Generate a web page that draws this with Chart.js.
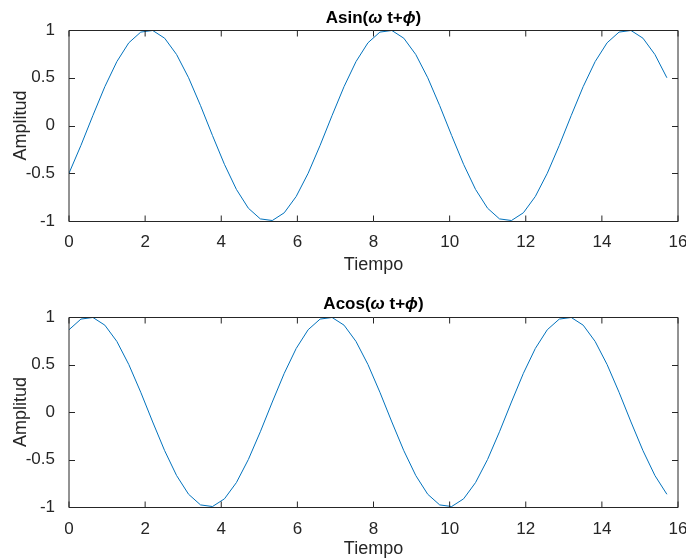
<!DOCTYPE html>
<html>
<head>
<meta charset="utf-8">
<script src="https://cdn.jsdelivr.net/npm/chart.js@4.4.1/dist/chart.umd.min.js"></script>
<style>
  body { margin: 0; background: #fff; }
  canvas { display: block; }
</style>
</head>
<body>
<canvas id="arriba" width="686" height="280"></canvas>
<canvas id="abajo" width="686" height="280"></canvas>
<script>
// t = 0 .. 5*pi, paso pi/10
const tiempo = [0, 0.314, 0.628, 0.942, 1.257, 1.571, 1.885, 2.199, 2.513, 2.827,
    3.142, 3.456, 3.770, 4.084, 4.398, 4.712, 5.027, 5.341, 5.655, 5.969,
    6.283, 6.597, 6.912, 7.226, 7.540, 7.854, 8.168, 8.482, 8.796, 9.111,
    9.425, 9.739, 10.053, 10.367, 10.681, 10.996, 11.310, 11.624, 11.938, 12.252,
    12.566, 12.881, 13.195, 13.509, 13.823, 14.137, 14.451, 14.765, 15.080, 15.394,
    15.708];
const seno = [-0.5, -0.208, 0.105, 0.407, 0.669, 0.866, 0.978, 0.995, 0.914, 0.743,
    0.5, 0.208, -0.105, -0.407, -0.669, -0.866, -0.978, -0.995, -0.914, -0.743,
    -0.5, -0.208, 0.105, 0.407, 0.669, 0.866, 0.978, 0.995, 0.914, 0.743,
    0.5, 0.208, -0.105, -0.407, -0.669, -0.866, -0.978, -0.995, -0.914, -0.743,
    -0.5, -0.208, 0.105, 0.407, 0.669, 0.866, 0.978, 0.995, 0.914, 0.743,
    0.5];
const coseno = [0.866, 0.978, 0.995, 0.914, 0.743, 0.5, 0.208, -0.105, -0.407, -0.669,
    -0.866, -0.978, -0.995, -0.914, -0.743, -0.5, -0.208, 0.105, 0.407, 0.669,
    0.866, 0.978, 0.995, 0.914, 0.743, 0.5, 0.208, -0.105, -0.407, -0.669,
    -0.866, -0.978, -0.995, -0.914, -0.743, -0.5, -0.208, 0.105, 0.407, 0.669,
    0.866, 0.978, 0.995, 0.914, 0.743, 0.5, 0.208, -0.105, -0.407, -0.669,
    -0.866];
const xTicks = [0, 2, 4, 6, 8, 10, 12, 14, 16];
const yTicks = [-1, -0.5, 0, 0.5, 1];

const fuente = '"Liberation Sans", Arial, Helvetica, sans-serif';
const gris = '#262626';

// caja completa con marcas hacia dentro + titulo con letras griegas en cursiva
const marco = {
    id: 'marco',
    afterDatasetsDraw(chart, args, opts) {
        const { ctx, chartArea: a, scales: { x, y } } = chart;
        const l = Math.round(a.left), r = Math.round(a.right);
        const t = Math.round(a.top) + 0.5, b = Math.round(a.bottom) + 0.5;
        ctx.save();
        ctx.strokeStyle = gris;
        ctx.lineWidth = 1;
        ctx.beginPath();
        ctx.moveTo(l, t); ctx.lineTo(r, t);
        ctx.moveTo(l, b); ctx.lineTo(r, b);
        ctx.moveTo(l, t); ctx.lineTo(l, b);
        ctx.moveTo(r, t); ctx.lineTo(r, b);
        xTicks.forEach(v => {
            const px = x.getPixelForValue(v);
            ctx.moveTo(px, b); ctx.lineTo(px, b - 6);
            ctx.moveTo(px, t); ctx.lineTo(px, t + 6);
        });
        yTicks.forEach(v => {
            const py = Math.round(y.getPixelForValue(v)) + 0.5;
            ctx.moveTo(l, py); ctx.lineTo(l + 6, py);
            ctx.moveTo(r, py); ctx.lineTo(r - 6, py);
        });
        ctx.stroke();

        // titulo
        const partes = opts.partes;
        const fonts = partes.map(p => (p[1] ? 'italic bold 17px ' : 'bold 17px ') + fuente);
        let ancho = 0;
        partes.forEach((p, i) => { ctx.font = fonts[i]; ancho += ctx.measureText(p[0]).width; });
        let cx = (a.left + a.right) / 2 - ancho / 2;
        ctx.fillStyle = '#000';
        ctx.textBaseline = 'alphabetic';
        ctx.textAlign = 'left';
        partes.forEach((p, i) => {
            ctx.font = fonts[i];
            ctx.fillText(p[0], cx, opts.base);
            cx += ctx.measureText(p[0]).width;
        });
        ctx.restore();
    }
};

function hacerGrafica(id, valores, partes, arriba, abajoEje, base, tickPad, titlePad) {
    const alto = 280;
    return new Chart(document.getElementById(id), {
        type: 'line',
        data: {
            datasets: [{
                data: tiempo.map((t, i) => ({ x: t, y: valores[i] })),
                borderColor: '#0072BD',
                borderWidth: 1,
                pointRadius: 0,
                tension: 0,
                fill: false
            }]
        },
        options: {
            responsive: false,
            animation: false,
            devicePixelRatio: 1,
            layout: { padding: { top: arriba, right: 8, left: 0, bottom: 0 } },
            plugins: {
                legend: { display: false },
                tooltip: { enabled: false },
                marco: { partes, base }
            },
            scales: {
                x: {
                    type: 'linear',
                    min: 0,
                    max: 16,
                    afterFit: s => {
                        s.height = alto - abajoEje;
                        s.paddingLeft = 0;
                        s.paddingRight = 0;
                    },
                    afterBuildTicks: s => { s.ticks = xTicks.map(v => ({ value: v })); },
                    grid: { display: false },
                    border: { display: false },
                    ticks: {
                        padding: tickPad,
                        color: gris,
                        maxRotation: 0,
                        font: { family: fuente, size: 17 },
                        callback: v => String(v)
                    },
                    title: {
                        display: true,
                        text: 'Tiempo',
                        color: gris,
                        padding: { top: 0, bottom: titlePad },
                        font: { family: fuente, size: 18 }
                    }
                },
                y: {
                    min: -1,
                    max: 1,
                    afterFit: s => {
                        s.width = 69;
                        s.paddingTop = 0;
                        s.paddingBottom = 0;
                    },
                    afterBuildTicks: s => { s.ticks = yTicks.map(v => ({ value: v })); },
                    grid: { display: false },
                    border: { display: false },
                    ticks: {
                        padding: 6,
                        color: gris,
                        font: { family: fuente, size: 17 },
                        callback: v => String(v)
                    },
                    title: {
                        display: true,
                        text: 'Amplitud',
                        color: gris,
                        padding: { top: 10, bottom: 0 },
                        font: { family: fuente, size: 18 }
                    }
                }
            }
        },
        plugins: [marco]
    });
}

hacerGrafica('arriba', seno,
    [['Asin(', false], ['ω', true], [' t+', false], ['ϕ', true], [')', false]],
    30, 221, 23, 3, 4);
hacerGrafica('abajo', coseno,
    [['Acos(', false], ['ω', true], [' t+', false], ['ϕ', true], [')', false]],
    37, 227, 309 - 280, 4, 0);
</script>
</body>
</html>
